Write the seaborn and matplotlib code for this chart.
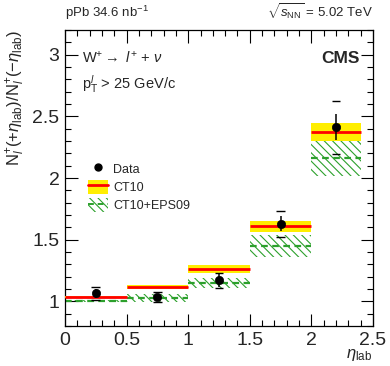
import numpy as np
import pandas as pd
import matplotlib
matplotlib.use("Agg")
import matplotlib.pyplot as plt
from matplotlib.patches import Patch
from matplotlib.lines import Line2D
from matplotlib.ticker import MultipleLocator, FuncFormatter
import seaborn as sns

# Bin edges in eta_lab
bin_lo = [0.0, 0.5, 1.0, 1.5, 2.0]
bin_hi = [0.5, 1.0, 1.5, 2.0, 2.4]

# CT10 prediction (central value and uncertainty)
ct10 = [1.035, 1.117, 1.262, 1.610, 2.376]
ct10_err = [0.005, 0.018, 0.033, 0.045, 0.072]

# CT10+EPS09 prediction
eps09 = [1.004, 1.030, 1.150, 1.450, 2.160]
eps09_err = [0.008, 0.033, 0.040, 0.087, 0.146]

# Measured forward/backward ratio
data_x = [0.25, 0.75, 1.25, 1.75, 2.2]
data_y = [1.064, 1.038, 1.170, 1.630, 2.410]
data_stat = [0.036, 0.020, 0.050, 0.060, 0.105]
data_syst = [0.052, 0.040, 0.060, 0.106, 0.215]

sns.set_theme(style="ticks")
plt.rcParams["font.family"] = ["Liberation Sans", "DejaVu Sans"]
plt.rcParams["mathtext.fontset"] = "custom"
plt.rcParams["mathtext.rm"] = "Liberation Sans"
plt.rcParams["mathtext.it"] = "Liberation Sans:italic"
plt.rcParams["mathtext.bf"] = "Liberation Sans:bold"
plt.rcParams["hatch.linewidth"] = 0.8

green = "#2ca02c"
hatch = "\\" * 4
fig = plt.figure(figsize=(3.9, 3.66), dpi=100)
ax = fig.add_axes([0.1667, 0.1093, 0.7897, 0.8087])

for lo, hi, c, e in zip(bin_lo, bin_hi, eps09, eps09_err):
    ax.fill_between([lo, hi], c - e, c + e, facecolor="none",
                    edgecolor=green, hatch=hatch, linewidth=0, zorder=2)
    ax.hlines(c, lo, hi, colors=green, linestyles=(0, (3, 2)), lw=1.6, zorder=2)

for lo, hi, c, e in zip(bin_lo, bin_hi, ct10, ct10_err):
    ax.fill_between([lo, hi], c - e, c + e, color="#ffee00", linewidth=0, zorder=3)
    ax.hlines(c, lo, hi, colors="red", lw=2.0, zorder=4)

df = pd.DataFrame({"x": data_x, "y": data_y, "stat": data_stat, "syst": data_syst})
ax.vlines(df["x"], df["y"] - df["stat"], df["y"] + df["stat"], colors="black", lw=1.1, zorder=5)
cap = 0.035
for sgn in (-1, 1):
    ax.hlines(df["y"] + sgn * df["syst"], df["x"] - cap, df["x"] + cap,
              colors="black", lw=1.0, zorder=5)
sns.scatterplot(data=df, x="x", y="y", ax=ax, color="black", s=36,
                edgecolor="black", zorder=6, legend=False)

ax.set_xlim(0, 2.5)
ax.set_ylim(0.8, 3.2)
ax.xaxis.set_major_locator(MultipleLocator(0.5))
ax.xaxis.set_minor_locator(MultipleLocator(0.1))
ax.yaxis.set_major_locator(MultipleLocator(0.5))
ax.yaxis.set_minor_locator(MultipleLocator(0.1))
fmt = FuncFormatter(lambda v, p: f"{v:g}")
ax.xaxis.set_major_formatter(fmt)
ax.yaxis.set_major_formatter(fmt)
ax.tick_params(which="both", direction="in", top=True, right=True, labelsize=14,
               color="black", width=0.8, pad=4)
ax.tick_params(which="major", length=9)
ax.tick_params(which="minor", length=4.5)
for s in ax.spines.values():
    s.set_color("black")
    s.set_linewidth(0.9)

ax.set_xlabel("")
ax.set_ylabel(r"N$_{l}^{+}$(+$\eta_{\rm lab}$)/N$_{l}^{+}$($-\eta_{\rm lab}$)",
              fontsize=12, loc="top", labelpad=4)
fig.text(0.955, 0.008, r"$\eta_{\rm lab}$", fontsize=12, ha="right", va="bottom")

fig.text(0.1667, 0.94, r"pPb 34.6 nb$^{-1}$", fontsize=9.5, ha="left", va="bottom")
fig.text(0.956, 0.94, r"$\sqrt{s_{\rm NN}}$ = 5.02 TeV", fontsize=9.5, ha="right", va="bottom")
ax.text(0.958, 0.93, "CMS", transform=ax.transAxes, fontsize=12.5, fontweight="bold",
        ha="right", va="top")
ax.text(0.055, 0.935, r"W$^{+}\rightarrow$ $l^{+}$ + $\nu$", transform=ax.transAxes,
        fontsize=10.5, ha="left", va="top")
ax.text(0.055, 0.855, r"p$_{\rm T}^{l}$ > 25 GeV/c", transform=ax.transAxes,
        fontsize=10.5, ha="left", va="top")

h_data = Line2D([], [], marker="o", color="black", ls="none", markersize=5)
h_ct10 = (Patch(facecolor="#ffee00", edgecolor="none"), Line2D([], [], color="red", lw=2))
h_eps = (Patch(facecolor="none", edgecolor=green, hatch=hatch, linewidth=0),
         Line2D([], [], color=green, ls=(0, (3, 2)), lw=1.4))
ax.legend([h_data, h_ct10, h_eps], ["Data", "CT10", "CT10+EPS09"],
          loc="center left", bbox_to_anchor=(0.06, 0.47), frameon=False,
          fontsize=9, handlelength=1.6, handleheight=1.3, handletextpad=0.4,
          labelspacing=0.35, borderaxespad=0)

fig.savefig("out.png", dpi=100)
